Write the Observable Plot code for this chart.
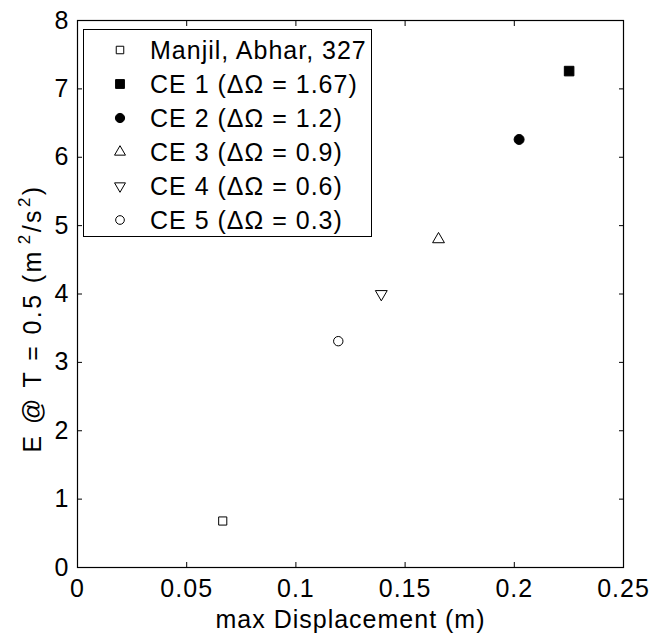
<!DOCTYPE html>
<html>
<head>
<meta charset="utf-8">
<script src="https://cdn.jsdelivr.net/npm/d3@7"></script>
<script src="https://cdn.jsdelivr.net/npm/@observablehq/plot@0.6"></script>
<style>
  body { margin: 0; background: #fff; }
  #wrap { position: relative; width: 654px; height: 637px; font-family: "Liberation Sans", Arial, sans-serif; }
  #legend { position: absolute; left: 83px; top: 29px; width: 287px; height: 206px; border: 1px solid #000; background: #fff; }
  .row { position: absolute; left: 0; height: 34px; font-size: 25px; letter-spacing: 1px; color: #000; white-space: nowrap; }
  .row svg { position: absolute; left: 26px; top: 7px; }
  .row span { position: absolute; left: 66px; line-height: 34px; top: 0; }
</style>
</head>
<body>
<div id="wrap"><div id="legend"></div></div>
<script>
// ---- data ----
const seriesNames = ["Manjil, Abhar, 327", "CE 1 (ΔΩ = 1.67)", "CE 2 (ΔΩ = 1.2)", "CE 3 (ΔΩ = 0.9)", "CE 4 (ΔΩ = 0.6)", "CE 5 (ΔΩ = 0.3)"];
const maxDisplacement = [0.0665, 0.2251, 0.2022, 0.1653, 0.1391, 0.1194];
const energyAtT05 = [0.68, 7.26, 6.26, 4.80, 4.00, 3.31];
const markerShapes = ["square", "square", "circle", "triangle", "triangleDown", "circle"];
const markerFills = ["white", "black", "black", "white", "white", "white"];
const markerRadii = [4.6, 5.4, 5.0, 4.4, 4.4, 4.7];
const xTickValues = [0, 0.05, 0.1, 0.15, 0.2, 0.25];
const xTickLabels = ["0", "0.05", "0.1", "0.15", "0.2", "0.25"];
const yTickValues = [0, 1, 2, 3, 4, 5, 6, 7, 8];
const yTickLabels = ["0", "1", "2", "3", "4", "5", "6", "7", "8"];
const xLabel = "max Displacement (m)";
const yLabelParts = [["E @ T = 0.5 (m", false], ["2", true], ["/s", false], ["2", true], [")", false]];

const triangleDown = {
  draw(context, size) {
    const y = -Math.sqrt(size / (Math.sqrt(3) * 3));
    context.moveTo(0, -y * 2);
    context.lineTo(-Math.sqrt(3) * y, y);
    context.lineTo(Math.sqrt(3) * y, y);
    context.closePath();
  }
};
const symbolFor = s => s === "square" ? d3.symbolSquare : s === "circle" ? d3.symbolCircle : s === "triangle" ? d3.symbolTriangle : triangleDown;

const table = seriesNames.map((name, i) => ({
  name, x: maxDisplacement[i], y: energyAtT05[i],
  symbol: symbolFor(markerShapes[i]), fill: markerFills[i], r: markerRadii[i]
}));

const chart = Plot.plot({
  width: 654,
  height: 637,
  marginLeft: 77,
  marginRight: 31,
  marginTop: 20,
  marginBottom: 70,
  style: { fontFamily: "Liberation Sans, Arial, sans-serif", fontSize: "25px", letterSpacing: "1px", color: "#000", background: "#fff" },
  x: { domain: [0, 0.25] },
  y: { domain: [0, 8] },
  symbol: { type: "identity" },
  color: { type: "identity" },
  r: { type: "identity" },
  marks: [
    Plot.frame({ stroke: "#000", strokeWidth: 1.2 }),
    Plot.axisX({ anchor: "bottom", ticks: xTickValues, tickSize: -5, tickFormat: () => "", label: null }),
    Plot.axisX({ anchor: "top", ticks: xTickValues, tickSize: -5, tickFormat: () => "", label: null }),
    Plot.axisY({ anchor: "left", ticks: yTickValues, tickSize: -5, tickFormat: () => "", label: null }),
    Plot.axisY({ anchor: "right", ticks: yTickValues, tickSize: -5, tickFormat: () => "", label: null }),
    Plot.axisX({ anchor: "bottom", ticks: xTickValues, tickSize: 0, tickPadding: 12,
      tickFormat: (d, i) => xTickLabels[i], label: xLabel, labelAnchor: "center", labelArrow: "none", labelOffset: 60 }),
    Plot.axisY({ anchor: "left", ticks: yTickValues, tickSize: 0, tickPadding: 8,
      tickFormat: (d, i) => yTickLabels[i], label: null }),
    Plot.dot(table, { x: "x", y: "y", symbol: "symbol", fill: "fill", r: "r", stroke: "#000", strokeWidth: 1 })
  ]
});
document.getElementById("wrap").prepend(chart);

// y-axis title with true superscripts
const ys = chart.scale("y");
const yMid = (ys.apply(ys.domain[0]) + ys.apply(ys.domain[1])) / 2;
const ylab = d3.select(chart).append("text")
  .attr("transform", `translate(41,${yMid + 25}) rotate(-90)`)
  .attr("text-anchor", "middle")
  .attr("fill", "#000")
  .style("letter-spacing", "2.4px");
yLabelParts.forEach(([t, sup], i) => {
  const ts = ylab.append("tspan").text(t);
  if (sup) ts.attr("font-size", "17px").attr("dy", "-11").attr("dx", i === 1 ? "5" : "1");
  else if (i > 0) ts.attr("dy", "11").attr("font-size", "25px");
});

// ---- legend ----
const legend = d3.select("#legend");
table.forEach((d, i) => {
  const row = legend.append("div").attr("class", "row").style("top", (3 + i * 34) + "px").style("width", "287px");
  const svg = row.append("svg").attr("width", 20).attr("height", 20);
  svg.append("path")
    .attr("transform", "translate(10,10)")
    .attr("d", d3.symbol(d.symbol, Math.PI * d.r * d.r * 0.85)())
    .attr("fill", d.fill).attr("stroke", "#000").attr("stroke-width", 1);
  row.append("span").text(d.name);
});
</script>
</body>
</html>
